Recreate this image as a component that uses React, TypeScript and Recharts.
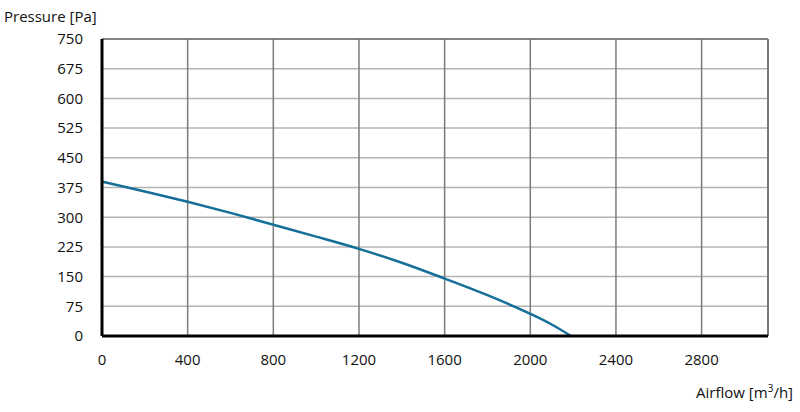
import { LineChart, Line, XAxis, YAxis, CartesianGrid, ReferenceLine } from "recharts";

const airflow = [0, 200, 400, 600, 800, 1000, 1200, 1400, 1600, 1800, 2000, 2100, 2190];
const pressure = [390, 365, 339, 311, 281, 251, 220, 185, 145, 103, 56, 29, 0];

const xTicks = [0, 400, 800, 1200, 1600, 2000, 2400, 2800];
const yTicks = [0, 75, 150, 225, 300, 375, 450, 525, 600, 675, 750];

const X_MAX = 3110;
const FONT = "'Open Sans', 'Noto Sans', sans-serif";

const data = airflow.map((q, i) => ({ q, p: pressure[i] }));

export default function App() {
  const tick = { fontSize: 15, fill: "#111", fontFamily: FONT };
  return (
    <div style={{ position: "absolute", left: 0, top: 0, width: 800, height: 412, background: "#fff" }}>
      <LineChart width={800} height={412} data={data} margin={{ top: 39, right: 32, bottom: 46, left: 0 }}>
        <CartesianGrid vertical={false} stroke="#b4b4b4" strokeWidth={1.5} />
        <CartesianGrid horizontal={false} stroke="#7c7c7c" strokeWidth={1.5} />
        <ReferenceLine y={750} stroke="#6e6e6e" strokeWidth={1.5} />
        <ReferenceLine x={X_MAX} stroke="#6e6e6e" strokeWidth={1.5} />
        <XAxis
          dataKey="q"
          type="number"
          domain={[0, X_MAX]}
          ticks={xTicks}
          height={30}
          tickLine={false}
          tickSize={0}
          tickMargin={18}
          axisLine={{ stroke: "#000", strokeWidth: 3 }}
          tick={tick}
          interval={0}
        />
        <YAxis
          type="number"
          domain={[0, 750]}
          ticks={yTicks}
          width={102}
          tickLine={false}
          tickSize={0}
          tickMargin={19}
          axisLine={{ stroke: "#000", strokeWidth: 3 }}
          tick={tick}
          interval={0}
        />
        <Line
          type="monotone"
          dataKey="p"
          stroke="#166f98"
          strokeWidth={2.5}
          dot={false}
          isAnimationActive={false}
        />
      </LineChart>
      <div style={{ position: "absolute", left: 4, top: 5, fontFamily: FONT, fontSize: 15, color: "#111", lineHeight: "22px" }}>
        Pressure [Pa]
      </div>
      <div style={{ position: "absolute", right: 7, top: 381, fontFamily: FONT, fontSize: 15, color: "#111", lineHeight: "22px" }}>
        Airflow [m<sup style={{ fontSize: 10, verticalAlign: "super", lineHeight: 0 }}>3</sup>/h]
      </div>
    </div>
  );
}
